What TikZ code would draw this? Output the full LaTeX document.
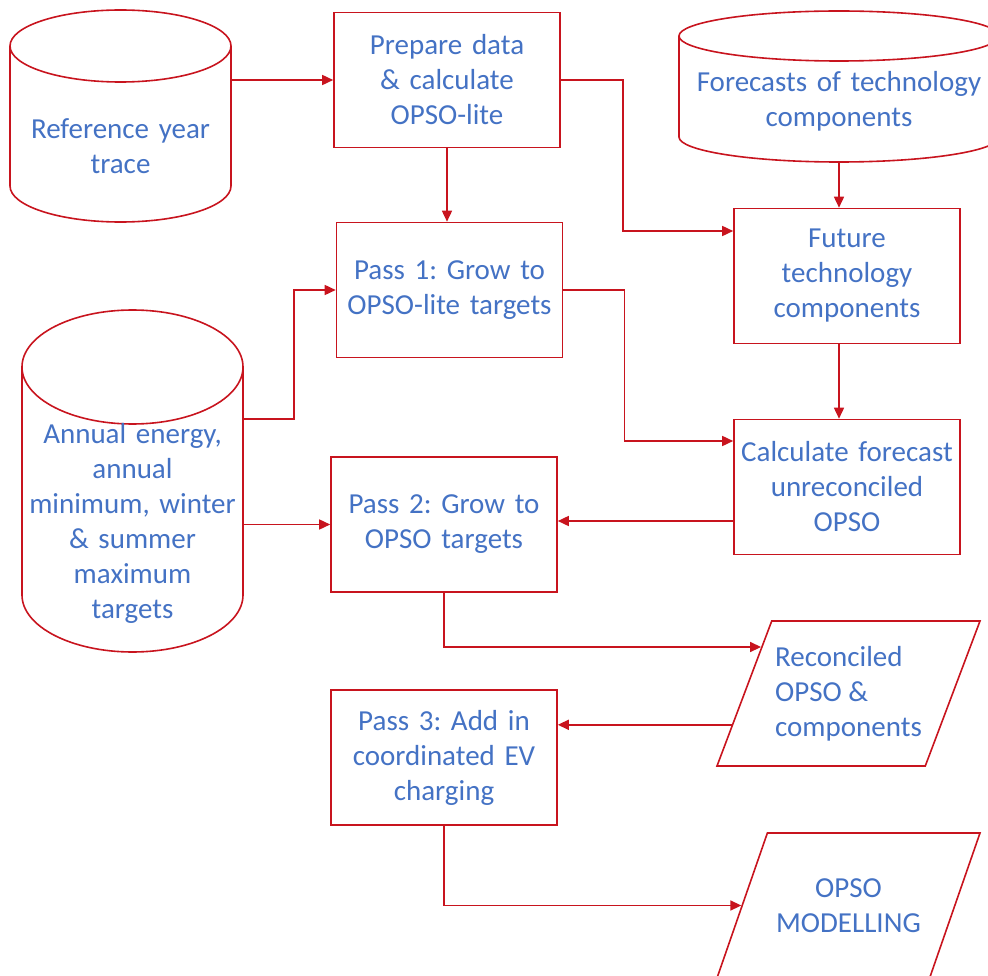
\documentclass[tikz,border=0pt]{standalone}
\usepackage{fontspec}
\setmainfont{Carlito}
\usepackage{xcolor}
\usetikzlibrary{arrows.meta,shapes.geometric}

\definecolor{flowred}{RGB}{200,20,30}
\definecolor{flowblue}{RGB}{68,114,196}

\begin{document}
\frenchspacing
\begin{tikzpicture}[x=1pt,y=1pt,line width=1.6pt,
  >={Triangle[length=11pt,width=10pt]},
  every node/.style={font=\fontsize{29}{35}\selectfont,text=flowblue},
  stepbox/.style={draw=flowred,rectangle,align=center,minimum width=226,minimum height=135,text width=214,inner sep=0},
  storetext/.style={align=center,inner sep=0},
  iobox/.style={draw=flowred,trapezium,trapezium left angle=60,trapezium right angle=120,trapezium stretches body=true,minimum width=263,minimum height=145,inner sep=0},
  flow/.style={->,draw=flowred}]

\useasboundingbox (0,0) rectangle (988,-976);
\clip (0,0) rectangle (988,-976);

% data stores
\draw[draw=flowred] (120.5,-46) ellipse[x radius=110.5,y radius=36];
\draw[draw=flowred] (10,-46) -- (10,-186) arc[start angle=180,end angle=360,x radius=110.5,y radius=36] -- (231,-46);

\draw[draw=flowred] (132.5,-367) ellipse[x radius=110.5,y radius=57];
\draw[draw=flowred] (22,-367) -- (22,-595) arc[start angle=180,end angle=360,x radius=110.5,y radius=57] -- (243,-367);

\draw[draw=flowred] (839,-36) ellipse[x radius=160,y radius=25];
\draw[draw=flowred] (679,-36) -- (679,-137) arc[start angle=180,end angle=360,x radius=160,y radius=25] -- (999,-36);

\node[storetext,text width=221] (RefYear) at (120.5,-146) {Reference year\\trace};
\node[storetext,text width=221] (Annual) at (132.5,-523) {Annual energy,\\annual\\minimum, winter\\\& summer\\maximum\\targets};
\node[storetext,text width=320] (Forecasts) at (839,-101) {Forecasts of technology\\components};
\coordinate (ForecastBase) at (839,-162);

% steps
\node[stepbox] (Prepare) at (447,-80) {Prepare data\\\& calculate\\OPSO-lite};
\node[stepbox] (PassOne) at (449.5,-290) {Pass 1: Grow to\\OPSO-lite targets};
\node[stepbox] (Future) at (847,-276) {Future\\technology\\components};
\node[stepbox] (Calc) at (847,-487) {Calculate forecast\\unreconciled\\OPSO};
\node[stepbox] (PassTwo) at (444,-524.5) {Pass 2: Grow to\\OPSO targets};
\node[stepbox] (PassThree) at (444,-757.5) {Pass 3: Add in\\coordinated EV\\charging};

% outputs
\node[iobox,align=left] (Reconciled) at (848.5,-693.5) {Reconciled\\OPSO \&\\components};
\node[iobox,align=center,trapezium left angle=47,trapezium right angle=133] (Modelling) at (848.5,-905.5) {OPSO\\MODELLING};


\draw[flow] (Prepare.west -| RefYear.east) -- (Prepare.west);
\draw[flow] (Prepare.south) -- (Prepare.south |- PassOne.north);
\draw[flow] (Prepare.east) -- ++(62,0) |- ([yshift=45]Future.west);
\draw[flow] (ForecastBase) -- (ForecastBase |- Future.north);
\draw[flow] ([yshift=104]Annual.east) -- ++(50,0) |- (PassOne.west);
\draw[flow] (PassTwo.west -| Annual.east) -- (PassTwo.west);
\draw[flow] (PassOne.east) -- ++(61,0) |- ([yshift=46]Calc.west);
\draw[flow] ([xshift=-8]Future.south) -- ([xshift=-8]Calc.north);
\draw[flow] ([yshift=-34]Calc.west) -- ([yshift=-34]Calc.west -| PassTwo.east);
\draw[flow] (PassTwo.south) |- (Reconciled.152);
\draw[flow] (Reconciled.195) -- (Reconciled.195 -| PassThree.east);
\draw[flow] (PassThree.south) |- (Modelling);

\end{tikzpicture}
\end{document}
